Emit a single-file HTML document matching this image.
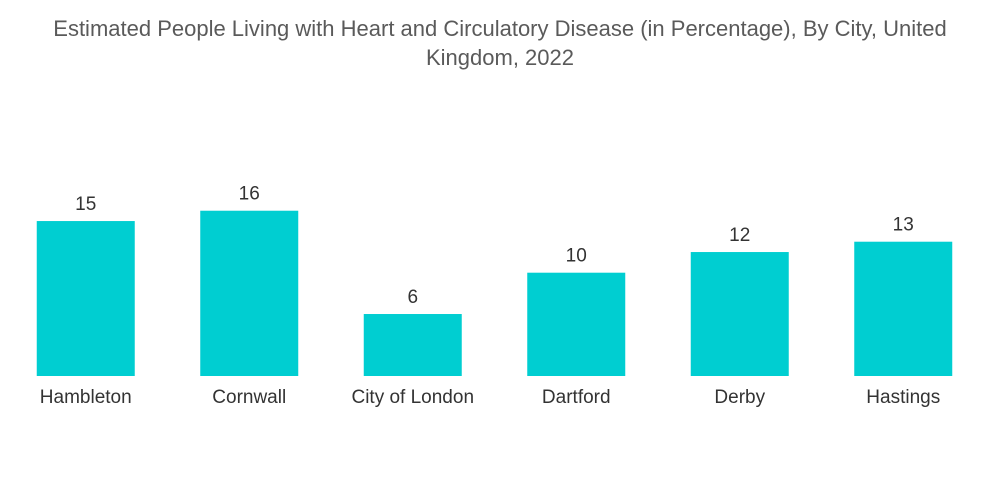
<!DOCTYPE html>
<html>
<head>
<meta charset="utf-8">
<style>
  html,body{margin:0;padding:0;background:#fff;}
  body{width:1000px;height:504px;overflow:hidden;font-family:"Liberation Sans",sans-serif;}
  .title{position:absolute;left:0;top:14px;width:1000px;text-align:center;font-size:22px;line-height:29px;color:#5a5a5a;}
</style>
</head>
<body>
<div class="title">Estimated People Living with Heart and Circulatory Disease (in Percentage), By City, United<br>Kingdom, 2022</div>
<svg id="chart" width="1000" height="504" style="position:absolute;left:0;top:0"></svg>
<script>
const categories = ["Hambleton","Cornwall","City of London","Dartford","Derby","Hastings"];
const values = [15, 16, 6, 10, 12, 13];

const svg = document.getElementById('chart');
const NS = 'http://www.w3.org/2000/svg';
const baseY = 376, pxPerUnit = 10.33;
const x0 = 4, band = 163.5, barW = 98;
function xScale(i){ return x0 + band*i + band/2; }
function yScale(v){ return baseY - v*pxPerUnit; }

categories.forEach((c,i)=>{
  const cx = xScale(i), v = values[i];
  const r = document.createElementNS(NS,'rect');
  r.setAttribute('x', cx - barW/2);
  r.setAttribute('y', yScale(v));
  r.setAttribute('width', barW);
  r.setAttribute('height', baseY - yScale(v));
  r.setAttribute('fill', '#00ced1');
  
  
  svg.appendChild(r);

  const t = document.createElementNS(NS,'text');
  t.setAttribute('x', cx);
  t.setAttribute('y', yScale(v) - 11);
  t.setAttribute('text-anchor','middle');
  t.setAttribute('font-size','19');
  t.setAttribute('fill','#333');
  t.setAttribute('font-family','Liberation Sans, sans-serif');
  t.textContent = v;
  
  
  svg.appendChild(t);

  const l = document.createElementNS(NS,'text');
  l.setAttribute('x', cx);
  l.setAttribute('y', 403);
  l.setAttribute('text-anchor','middle');
  l.setAttribute('font-size','19');
  l.setAttribute('fill','#333');
  l.setAttribute('font-family','Liberation Sans, sans-serif');
  l.textContent = c;
  
  
  svg.appendChild(l);
});
</script>
</body>
</html>
